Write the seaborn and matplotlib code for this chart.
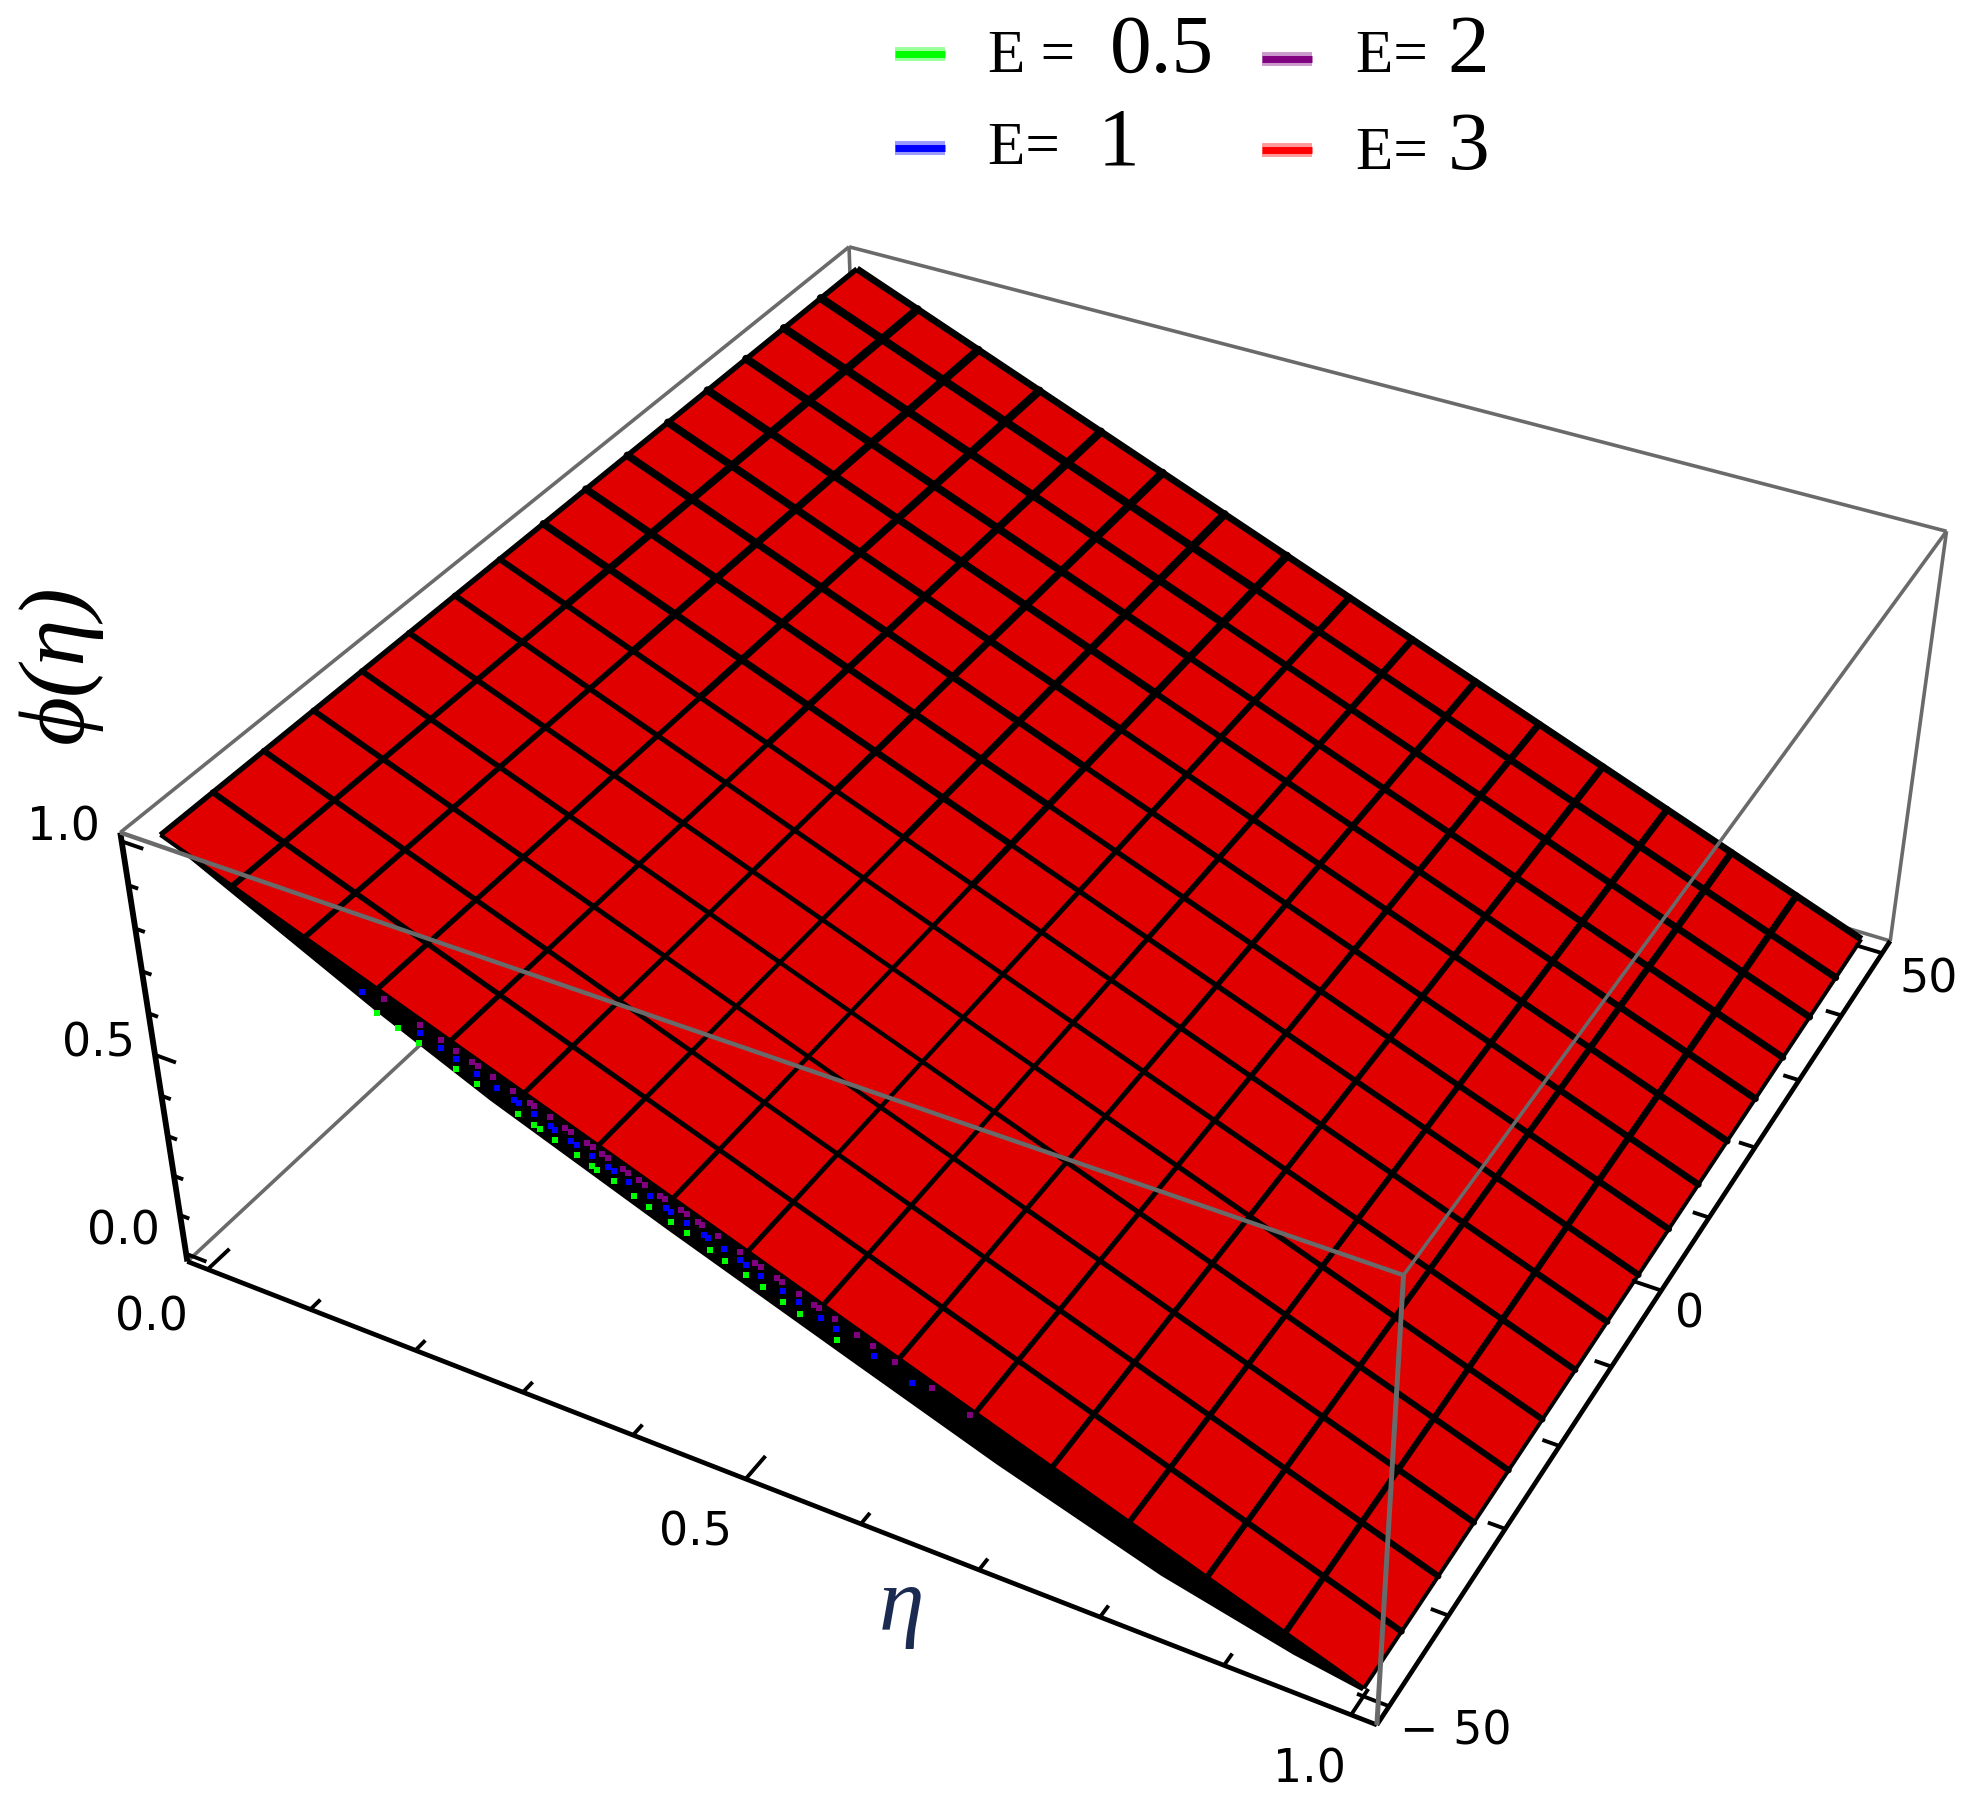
import matplotlib
matplotlib.use("Agg")
import matplotlib.pyplot as plt
import numpy as np
import seaborn as sns
from matplotlib.collections import LineCollection
from matplotlib.patches import Polygon

# chart values
eta_nodes = [0.0, 1.0]
phi_nodes = [1.0, 0.0]
xi_range = [-50.0, 50.0]
eta_mesh = [0.0625, 0.125, 0.1875, 0.25, 0.3125, 0.375, 0.4375, 0.5,
            0.5625, 0.625, 0.6875, 0.75, 0.8125, 0.875, 0.9375]
xi_mesh = [-43.75, -37.5, -31.25, -25.0, -18.75, -12.5, -6.25, 0.0,
           6.25, 12.5, 18.75, 25.0, 31.25, 37.5, 43.75]
unit_ticks = [0.0, 0.1, 0.2, 0.3, 0.4, 0.5, 0.6, 0.7, 0.8, 0.9, 1.0]
xi_ticks = [-50, -40, -30, -20, -10, 0, 10, 20, 30, 40, 50]
legend_values = ["0.5", "1", "2", "3"]
legend_colors = ["#00ff00", "#0000ff", "#800080", "#ff0000"]
surface_color = "#e00000"

# the lower E surfaces showing through along the near edge
green_eta = [0.200, 0.218, 0.236, 0.267, 0.285, 0.320, 0.333, 0.338, 0.351, 0.369, 0.382, 0.386,
             0.400, 0.417, 0.430, 0.448, 0.461, 0.480, 0.493, 0.510, 0.524, 0.541, 0.555, 0.585]
blue_eta = [0.182, 0.231, 0.249, 0.262, 0.280, 0.297, 0.311, 0.315, 0.328, 0.342, 0.346, 0.359,
            0.364, 0.377, 0.390, 0.395, 0.408, 0.425, 0.439, 0.443, 0.456, 0.470, 0.474, 0.487,
            0.500, 0.505, 0.518, 0.536, 0.549, 0.567, 0.580, 0.611, 0.642]
purple_eta = [0.196, 0.227, 0.245, 0.258, 0.271, 0.276, 0.289, 0.306, 0.320, 0.324, 0.337, 0.350,
              0.355, 0.368, 0.373, 0.381, 0.386, 0.399, 0.403, 0.412, 0.417, 0.430, 0.434, 0.447,
              0.452, 0.461, 0.465, 0.478, 0.496, 0.509, 0.514, 0.527, 0.531, 0.545, 0.558, 0.562,
              0.575, 0.593, 0.606, 0.624, 0.655, 0.686]
band_eta = [0.0, 0.1, 0.2, 0.3, 0.45, 0.6, 0.72, 0.85, 0.95, 1.0]
band_xi_width = [0.0, 0.9, 1.8, 2.4, 2.65, 2.7, 2.7, 2.3, 1.2, 0.3]

# box limits include the 2% padding
ETA_LIM = (-0.02, 1.02)
XI_LIM = (-52.0, 52.0)
PHI_LIM = (-0.02, 1.02)

S = 1982 / 1568


def fit_camera():
    # box corners as seen in the picture: (eta, xi, phi) index -> pixel
    seen = {
        (0, 0, 0): (148, 997),
        (1, 0, 0): (1090, 1365),
        (1, 1, 0): (1495, 745),
        (0, 0, 1): (95, 660),
        (1, 0, 1): (1110, 1008),
        (1, 1, 1): (1540, 420),
        (0, 1, 1): (672, 195),
    }
    rows = []
    for (a, b, c), (u, v) in seen.items():
        u, v = u * S, v * S
        p = [a, b, c, 1]
        rows.append(p + [0, 0, 0, 0] + [-u * q for q in p])
        rows.append([0, 0, 0, 0] + p + [-v * q for q in p])
    return np.linalg.svd(np.array(rows, dtype=float))[2][-1].reshape(3, 4)


CAM = fit_camera()


def project(eta, xi, phi):
    eta, xi, phi = np.broadcast_arrays(eta, xi, phi)
    a = (np.asarray(eta, float) - ETA_LIM[0]) / (ETA_LIM[1] - ETA_LIM[0])
    b = (np.asarray(xi, float) - XI_LIM[0]) / (XI_LIM[1] - XI_LIM[0])
    c = (np.asarray(phi, float) - PHI_LIM[0]) / (PHI_LIM[1] - PHI_LIM[0])
    h = CAM @ np.vstack([a, b, c, np.ones_like(a)])
    return h[0] / h[2], h[1] / h[2]


def phi_at(eta):
    return np.interp(eta, eta_nodes, phi_nodes)


def line3d(ax, eta, xi, phi, color="black", lw=3.0, z=3):
    x, y = project(eta, xi, phi)
    sns.lineplot(x=x, y=y, sort=False, estimator=None, color=color, linewidth=lw,
                 zorder=z, ax=ax, legend=False, solid_capstyle="butt")


def box_edge(ax, start, end, color, lw, z):
    line3d(ax, [start[0], end[0]], [start[1], end[1]], [start[2], end[2]], color, lw, z)


def mesh_width(eta, xi):
    # mesh lines come out heavy towards the back of the sheet, thin at the front
    d = np.hypot((eta - 0.45) / 0.7, (xi + 25.0) / 75.0)
    extra = 1.0 if (eta < 0.45 and xi > -5) else 0.0
    return 3.0 + 2.0 * min(d, 1.0) + extra


sns.set_theme(style="white")
plt.rcParams["font.family"] = ["DejaVu Sans"]
plt.rcParams["text.color"] = "black"

fig = plt.figure(figsize=(19.82, 18.19), dpi=100)
ax = fig.add_axes([0, 0, 1, 1])
ax.set_xlim(0, 1982)
ax.set_ylim(1819, 0)
ax.axis("off")

e0, e1 = ETA_LIM
x0, x1 = XI_LIM
p0, p1 = PHI_LIM
grey = "#6a6a6a"

# back edges go under the surface
for a, b in [((e0, x1, p1), (e0, x0, p1)), ((e0, x1, p1), (e1, x1, p1)),
             ((e1, x1, p1), (e1, x1, p0)), ((e0, x0, p0), (e0, x1, p0)),
             ((e0, x1, p0), (e1, x1, p0)), ((e0, x1, p0), (e0, x1, p1))]:
    box_edge(ax, a, b, grey, 2.6, 1)

# surface
all_eta = [eta_nodes[0]] + eta_mesh + [eta_nodes[-1]]
all_xi = [xi_range[0]] + xi_mesh + [xi_range[1]]
near_x, near_y = project(all_eta, xi_range[0], phi_at(all_eta))
far_x, far_y = project(all_eta, xi_range[1], phi_at(all_eta))
ax.add_patch(Polygon(np.column_stack([np.r_[near_x, far_x[::-1]], np.r_[near_y, far_y[::-1]]]),
                     closed=True, facecolor=surface_color, edgecolor="none", zorder=2))

# mesh, cut into cells so the weight can change along a line
segs, widths = [], []
for eta in eta_mesh:
    x, y = project(eta, all_xi, phi_at(eta))
    for i in range(len(all_xi) - 1):
        segs.append([(x[i], y[i]), (x[i + 1], y[i + 1])])
        widths.append(mesh_width(eta, (all_xi[i] + all_xi[i + 1]) / 2))
for xi in xi_mesh:
    x, y = project(all_eta, xi, phi_at(all_eta))
    for i in range(len(all_eta) - 1):
        segs.append([(x[i], y[i]), (x[i + 1], y[i + 1])])
        widths.append(mesh_width((all_eta[i] + all_eta[i + 1]) / 2, xi))
ax.add_collection(LineCollection(segs, colors="black", linewidths=widths, zorder=3,
                                 capstyle="round"))

# surface outline
line3d(ax, [eta_nodes[0]] * 2, xi_range, [phi_nodes[0]] * 2, lw=3.8)
line3d(ax, [eta_nodes[-1]] * 2, xi_range, [phi_nodes[-1]] * 2, lw=2.8)
line3d(ax, all_eta, xi_range[1], phi_at(all_eta), lw=5.0)
line3d(ax, all_eta, xi_range[0], phi_at(all_eta), lw=2.8)

# the other E surfaces stick out past the near edge as a black band
fine_eta = np.array(band_eta)
bx_out, by_out = project(fine_eta, xi_range[0] - np.array(band_xi_width), phi_at(fine_eta))
bx_in, by_in = project(fine_eta, xi_range[0], phi_at(fine_eta))
ax.add_patch(Polygon(np.column_stack([np.r_[bx_in, bx_out[::-1]], np.r_[by_in, by_out[::-1]]]),
                     closed=True, facecolor="black", edgecolor="none", zorder=4))

for vals, col, off in [(green_eta, legend_colors[0], -51.9), (blue_eta, legend_colors[1], -51.1),
                       (purple_eta, legend_colors[2], -50.45)]:
    vals = np.array(vals)
    x, y = project(vals, off, phi_at(vals))
    sns.scatterplot(x=x, y=y, color=col, marker="s", s=14, linewidth=0, zorder=5,
                    ax=ax, legend=False)

# front edges of the box, drawn over the surface
box_edge(ax, (e0, x0, p1), (e1, x0, p1), grey, 3.2, 6)
box_edge(ax, (e1, x0, p1), (e1, x1, p1), grey, 2.6, 6)
box_edge(ax, (e1, x0, p1), (e1, x0, p0), grey, 3.6, 6)

# black axes
box_edge(ax, (e0, x0, p0), (e1, x0, p0), "black", 3.4, 5)
box_edge(ax, (e1, x0, p0), (e1, x1, p0), "black", 3.4, 5)
box_edge(ax, (e0, x0, p0), (e0, x0, p1), "black", 4.2, 5)

# ticks
for t in unit_ticks:
    major = t in (0.0, 0.5, 1.0)
    line3d(ax, [t, t], [x0, x0 + (2.8 if major else 1.3)], [p0, p0], lw=2.8, z=5)
    line3d(ax, [e0, e0 + (0.02 if major else 0.009)], [x0, x0], [t, t], lw=2.8, z=5)
for t in xi_ticks:
    d = 0.025 if t in (-50, 0, 50) else 0.014
    line3d(ax, [e1, e1 - d], [t, t], [p0, p0], lw=2.8, z=5)

# tick labels
tick_font = {"family": "DejaVu Sans", "fontsize": 33, "ha": "center", "va": "center"}
for txt, (u, v) in [("0.0", (120, 1043)), ("0.5", (550, 1213)), ("1.0", (1036, 1400)),
                    ("1.0", (50, 655)), ("0.5", (78, 826)), ("0.0", (98, 975)),
                    ("− 50", (1152, 1370)), ("0", (1337, 1040)), ("50", (1526, 775))]:
    ax.text(u * S, v * S, txt, **tick_font)

# axis labels
serif = "Liberation Serif"
ax.text(47 * S, 525 * S, "ϕ(η)", family=serif, style="italic", fontsize=68, rotation=90,
        ha="center", va="center")
ax.text(713 * S, 1272 * S, "η", family=serif, style="italic", fontsize=66,
        ha="center", va="center", color="#1a2a50")

# legend, laid out by hand because the E is smaller than the digits
swatch_x = [(708, 748), (708, 748), (998, 1038), (998, 1038)]
swatch_y = [43, 117, 47, 119]
base_y = [57, 130, 57, 134]
e_x = [782, 782, 1073, 1073]
eq_txt = ["E = ", "E= ", "E= ", "E= "]
num_x = [878, 868, 1145, 1145]
for i, val in enumerate(legend_values):
    sx = np.array(swatch_x[i]) * S
    sy = [swatch_y[i] * S] * 2
    ax.plot(sx, sy, color=legend_colors[i], lw=10, solid_capstyle="butt", alpha=0.4, zorder=3)
    ax.plot(sx, sy, color=legend_colors[i], lw=5, solid_capstyle="butt", zorder=3)
    ax.text(e_x[i] * S, base_y[i] * S, eq_txt[i], family=serif, fontsize=44, va="baseline", ha="left")
    ax.text(num_x[i] * S, base_y[i] * S, val, family=serif, fontsize=60, va="baseline", ha="left")

fig.savefig("out.png", dpi=100, facecolor="white")
